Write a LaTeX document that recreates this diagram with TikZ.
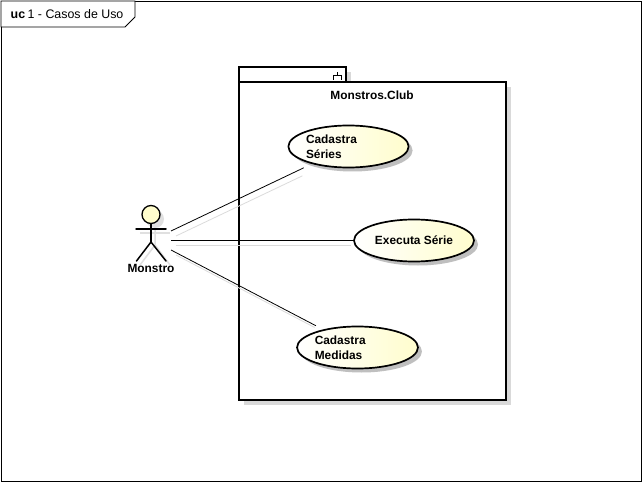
\documentclass[tikz,border=0pt]{standalone}
\usepackage{fontspec}
\setmainfont{Liberation Sans}
\usetikzlibrary{shapes.geometric,shadows}
\definecolor{usefill}{RGB}{255,253,205}
\tikzset{
  umltext/.style={font=\fontsize{11.9}{15}\selectfont\bfseries, inner sep=0pt},
  usecase/.style={ellipse, draw, line width=1.7pt, minimum width=120pt, minimum height=42pt, inner sep=0pt,
    left color=white, right color=usefill, umltext, align=left,
    drop shadow={shadow xshift=4pt, shadow yshift=-4pt, fill=black!25, opacity=1}},
  pkgbox/.style={draw, line width=1.7pt, fill=white,
    drop shadow={shadow xshift=5pt, shadow yshift=-5pt, fill=black!15, opacity=1}},
  assoc/.style={line width=0.8pt},
  assocshadow/.style={line width=0.8pt, black!14, transform canvas={shift={(5pt,-5pt)}}},
  actorline/.style={line width=1.5pt, line cap=round},
  actorshadow/.style={line width=1.5pt, black!12, transform canvas={shift={(4pt,-4pt)}}},
}
\begin{document}
\begin{tikzpicture}[x=1pt, y=-1pt]
    \useasboundingbox (0, 0) rectangle (643, 484);
    \fill[white] (0, 0) rectangle (643, 484);

    % frame
    \draw[line width=0.8pt] (1, 1) rectangle (641, 481);
    \draw[line width=0.8pt, fill=white] (1, 1) -- (135, 1) -- (135, 17) -- (125, 27) -- (1, 27) -- cycle;
    \node[anchor=base west, inner sep=0pt, font=\fontsize{12.4}{15}\selectfont] (frametitle) at (10.5, 19) {\textbf{uc}\hspace{-1pt} 1 - Casos de Uso};

    % package
    \node[pkgbox, minimum width=107pt, minimum height=15pt, inner sep=0pt] (pkgtab) at (292.5, 74.5) {};
    \node[pkgbox, minimum width=267pt, minimum height=318pt, inner sep=0pt] (pkg) at (372.5, 241) {};
    \node[umltext] (pkgname) at (372, 95) {Monstros.Club};
    \draw[line width=0.8pt] (333, 80) -- (333, 75.5) -- (341, 75.5) -- (341, 80);
    \draw[line width=0.8pt] (337, 75.5) -- (337, 72);

    % use cases
    \node[usecase, text width=85pt] (cadseries) at (348.5, 146.5) {Cadastra\\[-0.5pt]S\'eries};
    \node[usecase] (execserie) at (414, 240.5) {Executa S\'erie};
    \node[usecase, text width=85.5pt] (cadmedidas) at (357.5, 347.5) {Cadastra\\[-0.5pt]Medidas};

    % actor
    \coordinate (hand1) at (171, 231);
    \coordinate (hand2) at (171, 240.5);
    \coordinate (hand3) at (171, 250);
    \begin{scope}
      \draw[actorshadow] (151, 224) -- (151, 241) -- (136, 261);
      \draw[actorshadow] (151, 241) -- (166, 261);
      \draw[actorshadow] (136, 229) -- (166, 229);
      \fill[black!12] (155, 219) circle (9);
    \end{scope}
    \node[circle, draw, line width=1.3pt, fill=usefill, minimum size=18pt, inner sep=0pt] (head) at (151, 214.5) {};
    \coordinate (hip) at (151, 242);
    \coordinate (footl) at (136.5, 261);
    \coordinate (footr) at (166, 261);
    \draw[actorline] (head) -- (hip);
    \draw[actorline] (footl) -- (hip) -- (footr);
    \draw[actorline] (136, 229) -- (166, 229);
    \node[umltext] (monstro) at (151, 268) {Monstro};

    % associations
    \foreach \from/\to/\gap in {hand1/cadseries/9, hand2/execserie/0, hand3/cadmedidas/8} {
      \draw[assocshadow, shorten >=\gap pt+7pt] (\from) -- (\to);
      \draw[assoc, shorten >=\gap pt] (\from) -- (\to);
    }
\end{tikzpicture}
\end{document}
